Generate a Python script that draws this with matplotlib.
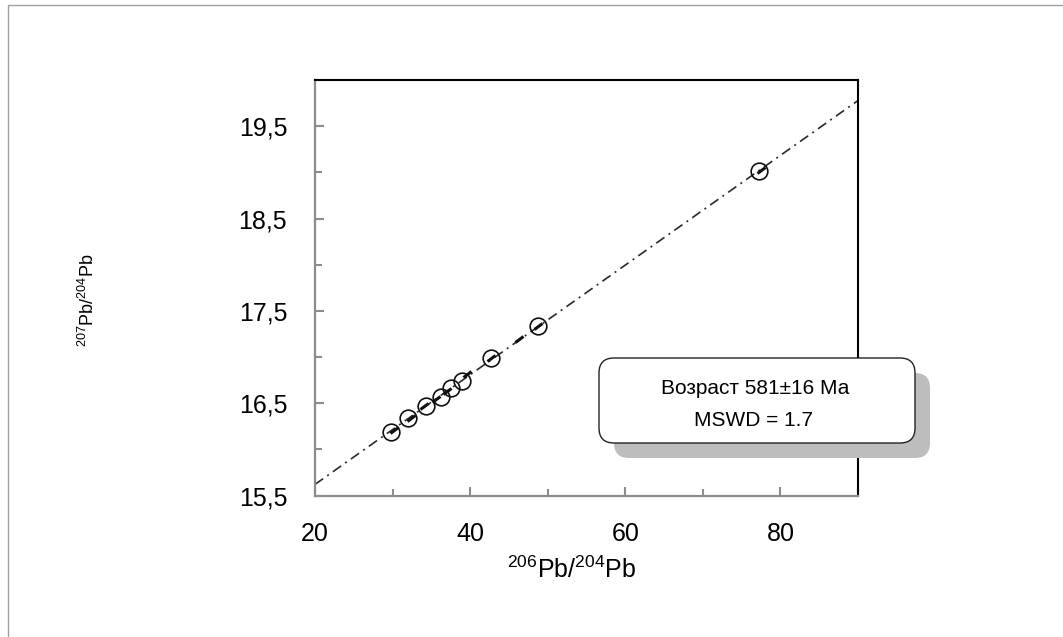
import numpy as np
import matplotlib
matplotlib.use("Agg")
import matplotlib.pyplot as plt
from matplotlib.markers import MarkerStyle
from matplotlib.transforms import Affine2D
from matplotlib.patches import FancyBboxPatch
from matplotlib.lines import Line2D
from matplotlib.ticker import MultipleLocator, FixedLocator, FixedFormatter

plt.rcParams['font.family'] = ['Liberation Sans', 'DejaVu Sans']
plt.rcParams['mathtext.fontset'] = 'custom'
plt.rcParams['mathtext.rm'] = 'Liberation Sans'
plt.rcParams['mathtext.it'] = 'Liberation Sans'

# 206Pb/204Pb vs 207Pb/204Pb (circles)
pb206 = [29.8, 32.0, 34.3, 36.2, 37.5, 39.0, 42.7, 48.8, 77.2]
pb207 = [16.19, 16.34, 16.47, 16.57, 16.66, 16.74, 16.99, 17.34, 19.01]

# small dark error ellipses
err_x = [30.2, 32.4, 34.0, 35.6, 37.0, 39.6, 42.7, 46.3, 48.8, 77.5]
err_y = [16.21, 16.34, 16.47, 16.55, 16.63, 16.82, 16.99, 17.20, 17.34, 19.03]

xticks = [20, 40, 60, 80]
yticks = [15.5, 16.5, 17.5, 18.5, 19.5]
ytick_labels = ['15,5', '16,5', '17,5', '18,5', '19,5']

age_text = 'Возраст 581±16 Ма'
mswd_text = 'MSWD = 1.7'

fig = plt.figure(figsize=(10.63, 6.37), dpi=100)
ax = fig.add_axes([0.2963, 0.2221, 0.5108, 0.6523])

# isochron
slope, icpt = np.polyfit(pb206, pb207, 1)
xl = np.array([20, 90])
ax.plot(xl, icpt + slope * xl, color='#2a2a2a', lw=1.2,
        linestyle=(0, (6, 3, 1.2, 3)), zorder=2)

ax.plot(pb206, pb207, 'o', ms=12, mfc='none', mec='#111111', mew=1.2, zorder=3)

mk = MarkerStyle('_', transform=Affine2D().rotate_deg(35))
ax.plot(err_x, err_y, linestyle='none', marker=mk, ms=7, mew=2.2,
        color='#111111', zorder=4)

ax.set_xlim(20, 90)
ax.set_ylim(15.5, 20.0)
ax.xaxis.set_major_locator(FixedLocator(xticks))
ax.xaxis.set_minor_locator(MultipleLocator(10))
ax.yaxis.set_major_locator(FixedLocator(yticks))
ax.yaxis.set_major_formatter(FixedFormatter(ytick_labels))
ax.yaxis.set_minor_locator(MultipleLocator(0.5))

for s in ['left', 'bottom']:
    ax.spines[s].set_color('#8c8c8c')
    ax.spines[s].set_linewidth(1.6)
for s in ['top', 'right']:
    ax.spines[s].set_color('black')
    ax.spines[s].set_linewidth(1.5)

ax.tick_params(which='both', direction='in', color='#8c8c8c', width=1.5,
               labelsize=18, top=False, right=False)
ax.tick_params(which='major', length=6.5)
ax.tick_params(which='minor', length=5)
ax.tick_params(axis='x', pad=19)
ax.tick_params(axis='y', pad=20)

fig.text(572 / 1063, 1 - 570 / 637, r'$^{206}$Pb/$^{204}$Pb', fontsize=18,
         ha='center', va='center')
fig.text(88 / 1063, 1 - 300 / 637, r'$^{207}$Pb/$^{204}$Pb', fontsize=13,
         rotation=90, ha='center', va='center')

# annotation box with shadow (inches)
shadow = FancyBboxPatch((6.14, 1.79), 3.16, 0.85,
                        boxstyle='round,pad=0,rounding_size=0.15',
                        transform=fig.dpi_scale_trans, fc='#bdbdbd', ec='none',
                        zorder=10)
box = FancyBboxPatch((5.99, 1.94), 3.16, 0.85,
                     boxstyle='round,pad=0,rounding_size=0.15',
                     transform=fig.dpi_scale_trans, fc='white', ec='#222222',
                     lw=1.0, zorder=11)
fig.patches.extend([shadow, box])
fig.text(755 / 1063, 1 - 388 / 637, age_text, fontsize=15, ha='center',
         va='center', zorder=12)
fig.text(753 / 1063, 1 - 421 / 637, mswd_text, fontsize=15, ha='center',
         va='center', zorder=12)

# outer chart frame (top and left only)
fig.lines.append(Line2D([8 / 1063, 8 / 1063, 1.0], [0, 1 - 5 / 637, 1 - 5 / 637],
                        transform=fig.transFigure, color='#a0a0a0', lw=1.0))

fig.savefig('out.png', dpi=100)
